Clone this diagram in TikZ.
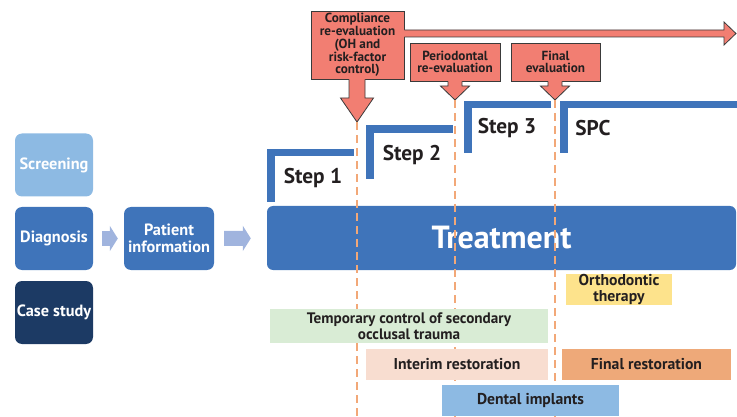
\documentclass[tikz,border=0pt]{standalone}
\usepackage{fontspec}
\setmainfont{PT Sans}
\usetikzlibrary{arrows.meta,calc}

\definecolor{phaseblue}{RGB}{63,116,186}
\definecolor{paleblue}{RGB}{141,186,227}
\definecolor{navy}{RGB}{28,58,100}
\definecolor{flowblue}{RGB}{160,180,222}
\definecolor{callred}{RGB}{242,126,114}
\definecolor{edgegray}{RGB}{58,58,58}
\definecolor{cutorange}{RGB}{242,168,120}
\definecolor{inkdark}{RGB}{35,31,32}
\definecolor{trgreen}{RGB}{217,236,213}
\definecolor{peach}{RGB}{248,221,208}
\definecolor{restorange}{RGB}{238,169,121}
\definecolor{orthoyellow}{RGB}{253,227,140}

% fat call-out arrow pointing down from a box to a tip
\newcommand\downcall[5]{%
  \fill[callred] let \p1=(#1.south), \p2=(#2) in
    (\x2-#3,\y1+1.2pt) -- (\x2-#3,\y2+#5) -- (\x2-#4,\y2+#5) -- (\x2,\y2)
    -- (\x2+#4,\y2+#5) -- (\x2+#3,\y2+#5) -- (\x2+#3,\y1+1.2pt) -- cycle;
  \draw[edgegray, line width=0.8pt, line join=miter] let \p1=(#1.south), \p2=(#2) in
    (\x2-#3,\y1) -- (\x2-#3,\y2+#5) -- (\x2-#4,\y2+#5) -- (\x2,\y2)
    -- (\x2+#4,\y2+#5) -- (\x2+#3,\y2+#5) -- (\x2+#3,\y1);}

\begin{document}
\begin{tikzpicture}[x=1pt,y=-1pt,
  tile/.style={fill=#1, rounded corners=7pt, text=white, inner sep=0pt,
    minimum width=78pt, minimum height=63pt, align=center,
    font=\bfseries\fontsize{16.3}{17.5}\selectfont},
  callbox/.style={fill=callred, draw=edgegray, line width=0.8pt, inner sep=0pt,
    text=inkdark, align=center, font=\bfseries\fontsize{13.2}{12.8}\selectfont},
  bar/.style={fill=#1, inner sep=0pt, text=inkdark, align=center,
    minimum height=31pt, font=\bfseries\fontsize{15.7}{15.7}\selectfont},
  steplabel/.style={text=inkdark, font=\bfseries\fontsize{21.3}{22}\selectfont},
  bracket/.style={draw=phaseblue, line width=7.5pt},
  cutline/.style={draw=cutorange, line width=2.5pt, dash pattern=on 8pt off 5pt},
  flow/.style={draw=flowblue, line width=15pt, -{Triangle[length=8pt,width=25pt]}}]
  \useasboundingbox (0,0) rectangle (737,417);

  % Left column
  \node[tile=paleblue] (screen) at (54,165) {Screening};
  \node[tile=phaseblue] (diag) at (54,238.5) {Diagnosis};
  \node[tile=navy] (cases) at (54,312.5) {Case study};
  \node[tile=phaseblue, minimum width=90pt] (patient) at (169,238.5) {Patient\\information};

  % Treatment bar
  \node[tile=phaseblue, rounded corners=6pt, minimum width=469pt, minimum height=64pt,
    font=\bfseries\fontsize{32}{34}\selectfont] (treat) at (501.5,238) {Treatment};

  \draw[flow, shorten <=9pt, shorten >=6pt] (diag) -- (patient);
  \draw[flow, shorten <=10pt, shorten >=16pt] (patient) -- (treat);

  % Step brackets
  \draw[bracket] (271,202) |- (354,152.5);
  \draw[bracket] (370,179) |- (453,129);
  \draw[bracket] (468,153) |- (551,104.5);
  \draw[bracket] (564,153) |- (737,104.5);
  \node[steplabel] (s1) at (313,178) {Step 1};
  \node[steplabel] (s2) at (412,155) {Step 2};
  \node[steplabel] (s3) at (507,128) {Step 3};
  \node[steplabel] (spc) at (593,128) {SPC};

  % Re-evaluation call-outs
  \node[callbox, minimum width=93pt, minimum height=68pt] (comp) at (357.5,45)
    {Compliance\\re-evaluation\\(OH and\\risk-factor\\control)};
  \node[callbox, minimum width=90pt, minimum height=38pt] (perio) at (455,62)
    {Periodontal\\re-evaluation};
  \node[callbox, minimum width=89pt, minimum height=38pt] (final) at (555.5,62)
    {Final\\evaluation};

  \coordinate (tip1) at (357,122);
  \coordinate (tip2) at (455,100);
  \coordinate (tip3) at (555,100);
  \coordinate (reach) at (736,33.5);
  \coordinate (floor) at (0,417);

  \downcall{comp}{tip1}{8pt}{16.5pt}{24pt}
  \downcall{perio}{tip2}{7pt}{14.5pt}{14pt}
  \downcall{final}{tip3}{7pt}{14.5pt}{14pt}

  % long arrow to the right
  \fill[callred] let \p1=(comp.east), \p2=(reach) in
    (\x1-1.2pt,\y2+3.5pt) -- (\x2-12pt,\y2+3.5pt) -- (\x2-12pt,\y2+11.5pt) -- (\x2,\y2)
    -- (\x2-12pt,\y2-11.5pt) -- (\x2-12pt,\y2-3.5pt) -- (\x1-1.2pt,\y2-3.5pt) -- cycle;
  \draw[edgegray, line width=0.8pt, line join=miter] let \p1=(comp.east), \p2=(reach) in
    (\x1,\y2+3.5pt) -- (\x2-12pt,\y2+3.5pt) -- (\x2-12pt,\y2+11.5pt) -- (\x2,\y2)
    -- (\x2-12pt,\y2-11.5pt) -- (\x2-12pt,\y2-3.5pt) -- (\x1,\y2-3.5pt);

  % Time cuts
  \draw[cutline] (tip1) -- (tip1 |- floor);
  \draw[cutline] (tip2) -- (tip2 |- floor);
  \draw[cutline] (tip3) -- (tip3 |- floor);

  % Adjunct treatments
  \node[bar=orthoyellow, minimum width=106pt] (ortho) at (619,289.5) {Orthodontic\\therapy};
  \node[bar=trgreen, minimum width=278pt, minimum height=34pt,
    font=\bfseries\fontsize{15.2}{15.7}\selectfont] (tempctl) at (409,326)
    {Temporary control of secondary\\occlusal trauma};
  \node[bar=peach, minimum width=182pt] (interim) at (457,364.5) {Interim restoration};
  \node[bar=restorange, minimum width=169pt] (finalrest) at (646.5,364.5) {Final restoration};
  \node[bar=paleblue, minimum width=177pt] (implants) at (530.5,400.5) {Dental implants};
\end{tikzpicture}
\end{document}
